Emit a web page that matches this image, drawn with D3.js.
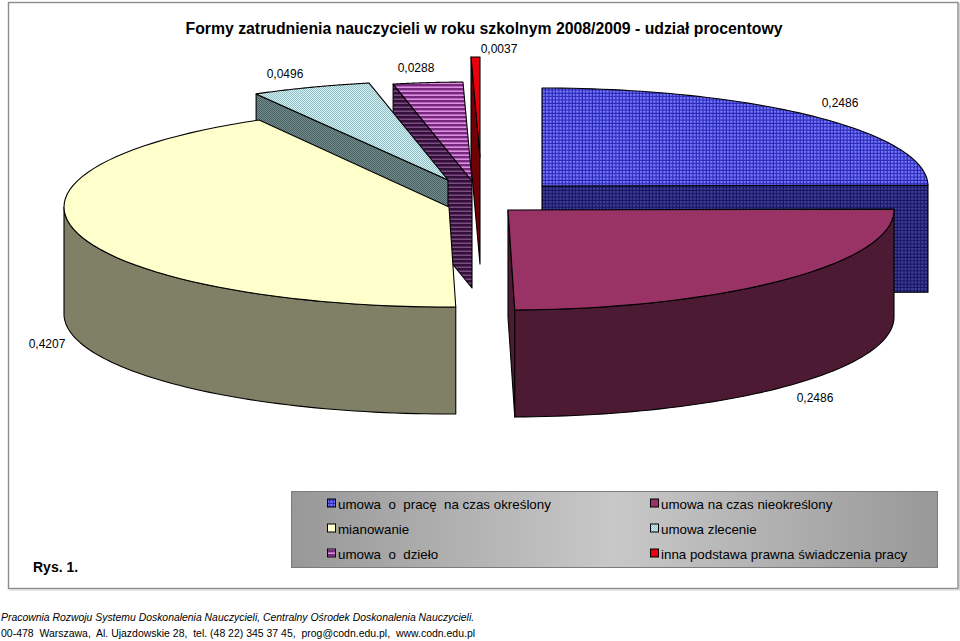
<!DOCTYPE html>
<html><head><meta charset="utf-8">
<script src="https://cdn.jsdelivr.net/npm/d3@7/dist/d3.min.js"></script>
<style>html,body{margin:0;padding:0;background:#fff}svg{display:block}text{font-family:"Liberation Sans",Arial,sans-serif;fill:#000}</style>
</head><body><svg id="c" width="960" height="641"></svg>
<script>
const categories=["umowa  o  pracę  na czas określony","umowa na czas nieokreślony","mianowanie","umowa zlecenie","umowa  o  dzieło","inna podstawa prawna świadczenia pracy"];
const shares=[0.2486,0.2486,0.4207,0.0496,0.0288,0.0037];
const valueLabels=["0,2486","0,2486","0,4207","0,0496","0,0288","0,0037"];
const titleText="Formy zatrudnienia nauczycieli w roku szkolnym 2008/2009 - udział procentowy";
const footerLines=["Pracownia Rozwoju Systemu Doskonalenia Nauczycieli, Centralny Ośrodek Doskonalenia Nauczycieli.","00-478  Warszawa,  Al. Ujazdowskie 28,  tel. (48 22) 345 37 45,  prog@codn.edu.pl,  www.codn.edu.pl"];

// layout
const sliceCenters=[[542,186],[508,210],[449,207],[448,180],[472,181],[480,157]];
const sliceRx=[386,386,385,389,389,386];
const sliceRy=[98,100,100,99,99,100];
const labelPos=[[840,107],[815,402],[47,348],[285,78],[416,72],[499,53]];
const paintOrder=[5,4,3,2,0,1];
const depth=107;
const topFill=["url(#pBlue)","#993366","#FFFFCC","url(#pTeal)","url(#pPurple)","#E8000C"];
const wallFill=["url(#pBlueD)","#4D1A33","#808066","url(#pTealD)","url(#pPurpleD)","#6E0008"];
const legendFill=["url(#pBlue)","#993366","#FFFFCC","url(#pTeal)","url(#pPurple)","#E8000C"];

const svg=d3.select("#c");
const defs=svg.append("defs");
function grid(id,bg,line,s){const p=defs.append("pattern").attr("id",id).attr("patternUnits","userSpaceOnUse").attr("width",s).attr("height",s);
  p.append("rect").attr("width",s).attr("height",s).attr("fill",line);
  p.append("rect").attr("width",s-1.1).attr("height",s-1.1).attr("fill",bg);}
grid("pBlue","#7A7AFF","#2626B4",3.35);
grid("pBlueD","#40409C","#15155E",3.35);
function stripes(id,bg,line,s,t){const p=defs.append("pattern").attr("id",id).attr("patternUnits","userSpaceOnUse").attr("width",s).attr("height",s);
  p.append("rect").attr("width",s).attr("height",s).attr("fill",bg);
  p.append("rect").attr("width",s).attr("height",t).attr("fill",line);}
stripes("pPurple","#E090E0","#77287F",4,2.4);
stripes("pPurpleD","#7A4A80","#33103A",4,2.5);
function dots(id,bg,dot){const p=defs.append("pattern").attr("id",id).attr("patternUnits","userSpaceOnUse").attr("width",2).attr("height",2);
  p.append("rect").attr("width",2).attr("height",2).attr("fill",bg);
  p.append("rect").attr("width",1).attr("height",1).attr("fill",dot);
  p.append("rect").attr("x",1).attr("y",1).attr("width",1).attr("height",1).attr("fill",dot);}
dots("pTeal","#D0F4F6","#96BCC4");
dots("pTealD","#6E8A8A","#4E6464");
const lg=defs.append("linearGradient").attr("id","legendBg");
lg.selectAll("stop").data([[0,"#989898"],[0.5,"#C8C8C8"],[1,"#989898"]]).join("stop").attr("offset",d=>d[0]).attr("stop-color",d=>d[1]);

// frame
svg.append("rect").attr("x",8.5).attr("y",2.5).attr("width",949.5).attr("height",586).attr("fill","#fff").attr("stroke","#8c8c8c").attr("stroke-width",1.4);
svg.append("path").attr("d","M9.5 590H959.5V3").attr("fill","none").attr("stroke","#cfcfcf").attr("stroke-width",1);

// pie
const arcs=d3.pie().sort(null).value(d=>d)(shares);
const line=d3.line();
const g=svg.append("g").attr("stroke","#000").attr("stroke-width",1.1).attr("stroke-linejoin","round");
paintOrder.forEach(i=>{
  const c=sliceCenters[i],a=arcs[i].startAngle,b=arcs[i].endAngle,d=depth,s=g.append("g");
  const pt=(t,dy=0)=>[c[0]+sliceRx[i]*Math.sin(t),c[1]-sliceRy[i]*Math.cos(t)+dy];
  const rim=(p,q,dy=0)=>d3.range(0,61).map(k=>pt(p+(q-p)*k/60,dy));
  const down=[c[0],c[1]+d];
  const wall=t=>s.append("path").attr("fill",wallFill[i]).attr("d",line([c,pt(t),pt(t,d),down])+"Z");
  if(Math.sin(b)>0.001) wall(b);
  if(Math.sin(a)<-0.001) wall(a);
  const lo=Math.max(a,Math.PI/2),hi=Math.min(b,Math.PI*1.5);
  if(hi>lo){const top=rim(lo,hi),bot=rim(lo,hi,d).reverse();
    s.append("path").attr("fill",wallFill[i]).attr("d",line(top.concat(bot))+"Z");}
  s.append("path").attr("fill",topFill[i]).attr("d",line([c].concat(rim(a,b)))+"Z");
});

// labels
svg.append("g").selectAll("text").data(valueLabels).join("text")
  .attr("x",(d,i)=>labelPos[i][0]).attr("y",(d,i)=>labelPos[i][1]).attr("text-anchor","middle")
  .attr("font-size",12).text(d=>d);

svg.append("text").attr("x",484).attr("y",34).attr("text-anchor","middle").attr("font-size",15.8).attr("font-weight","bold").text(titleText);
svg.append("text").attr("x",33).attr("y",572).attr("font-size",14).attr("font-weight","bold").text("Rys. 1.");

// legend
svg.append("rect").attr("x",291.5).attr("y",491.5).attr("width",646).attr("height",76).attr("fill","url(#legendBg)").attr("stroke","#7c7c7c");
const cols=[327,650],rows=[504,529,554];
const leg=svg.append("g").selectAll("g").data(categories).join("g")
  .attr("transform",(d,i)=>`translate(${cols[i%2]},${rows[Math.floor(i/2)]})`);
leg.append("rect").attr("x",0.5).attr("y",-5).attr("width",8).attr("height",8).attr("fill",(d,i)=>legendFill[i]).attr("stroke","#000").attr("stroke-width",1);
leg.append("text").attr("x",11).attr("y",4.5).attr("font-size",13.35).style("white-space","pre").text(d=>d);

// footer
svg.append("g").selectAll("text").data(footerLines).join("text").attr("x",1).attr("y",(d,i)=>i?637:621)
  .attr("font-size",(d,i)=>i?10.47:10.42).attr("font-style",(d,i)=>i?"normal":"italic").style("white-space","pre").text(d=>d);
</script></body></html>
